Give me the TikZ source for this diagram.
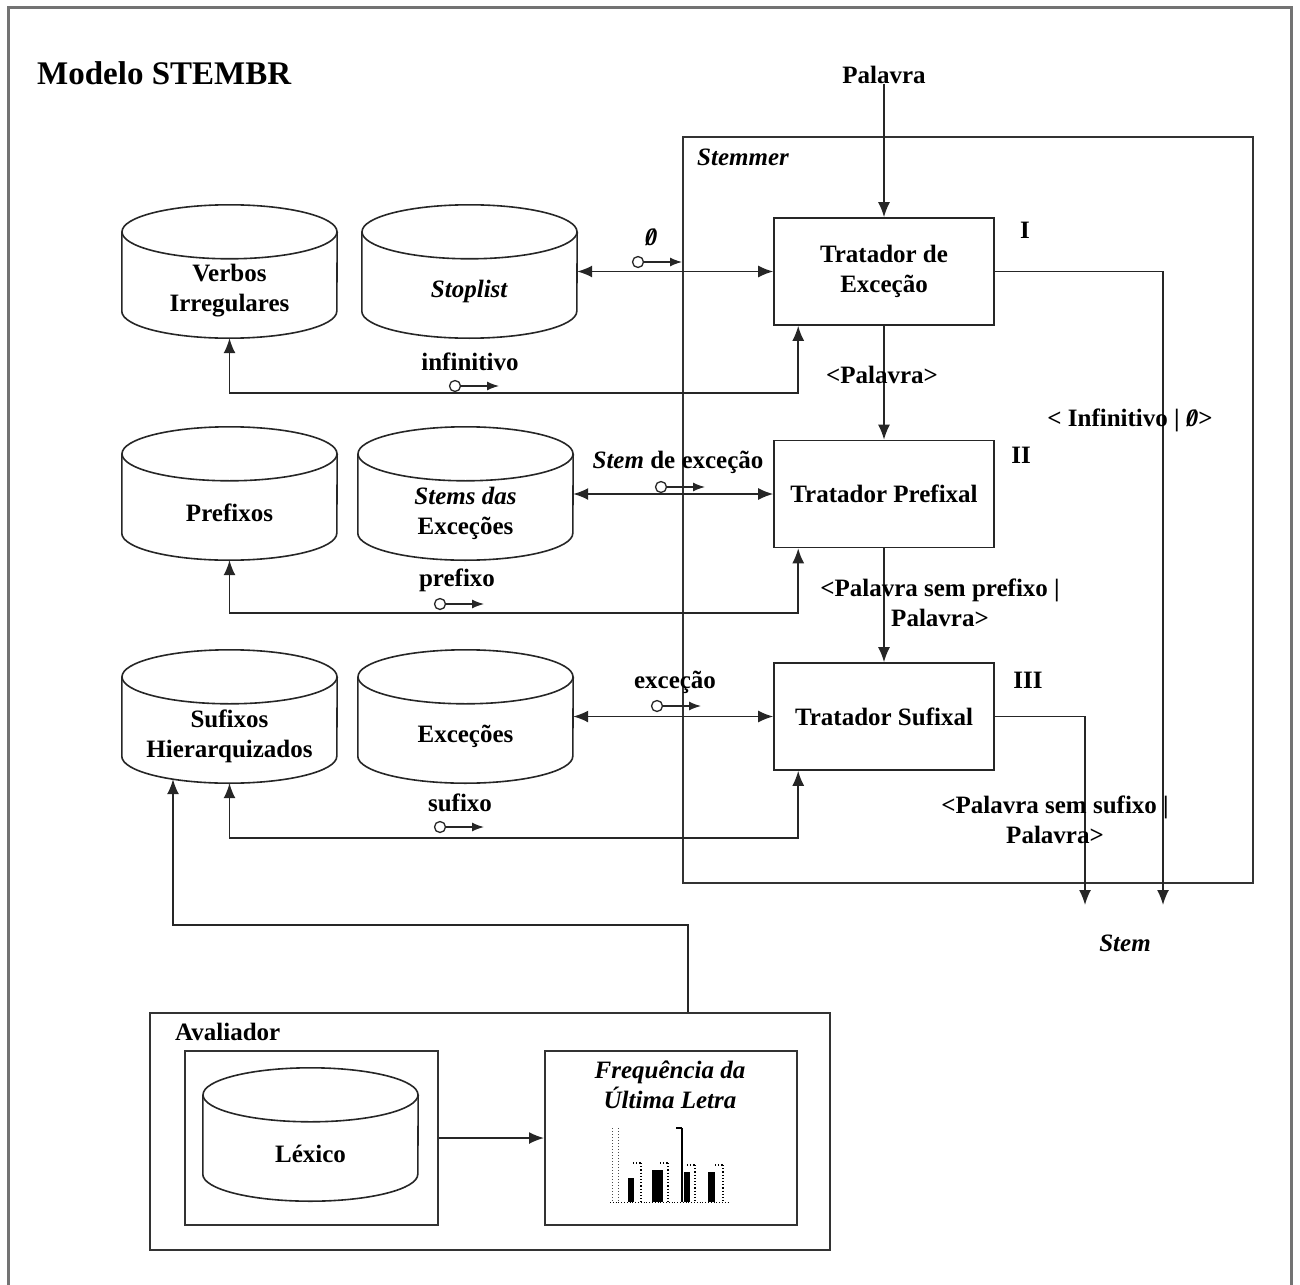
\documentclass[tikz,border=0pt]{standalone}
\usepackage{fontspec}
\setmainfont{Liberation Serif}
\usetikzlibrary{positioning,arrows.meta}

\newcommand{\vazio}{\ooalign{\textit{0}\cr\hidewidth\textit{/}\hidewidth}}
\newcommand{\banco}[4]{%
  \node[banco] (#1) at (#2,#3) {};
  \node[texto] (#1-rot) at ([yshift=-6pt]#1.center) {#4};
  \draw[linha] (#1.north) ellipse [x radius=107.5pt, y radius=27pt];
  \draw[linha] (#1.north west) -- ([yshift=27pt]#1.south west)
    arc [start angle=180, end angle=360, x radius=107.5pt, y radius=27pt] -- (#1.north east);
}

\begin{document}
\begin{tikzpicture}[x=1pt, y=-1pt,
    linha/.style = { draw=black!85, line width=1.6pt },
    seta/.style = { linha, -{Latex[length=15pt, width=12pt]} },
    setas/.style = { linha, {Latex[length=15pt, width=12pt]}-{Latex[length=15pt, width=12pt]} },
    texto/.style = { font=\fontsize{25}{30}\selectfont\bfseries, align=center, inner sep=0 },
    italico/.style = { texto, font=\fontsize{25}{30}\selectfont\bfseries\itshape },
    caixa/.style = { texto, linha, minimum width=220pt, minimum height=107pt },
    banco/.style = { minimum width=215pt, minimum height=106pt, inner sep=0 },
    grupo/.style = { draw=black!80, line width=2pt },
    chave/.pic = { \draw[linha, line width=1.3pt, fill=white] (0,0) circle (5.5pt);
                   \draw[linha, line width=1.3pt, -{Latex[length=12pt, width=9pt]}] (5.5,0) -- (44,0); }]
  \useasboundingbox (0,0) rectangle (1300,1284);
  \draw[draw=black!55, line width=3pt] (8,8) rectangle (1291,1300);

  \node[texto, font=\fontsize{33}{38}\selectfont\bfseries, anchor=west] (titulo) at (37,73) {Modelo STEMBR};
  \node[texto] (palavra) at (884,75) {Palavra};

  % stemmer
  \node[grupo, minimum width=570pt, minimum height=746pt] (stemmer) at (968,510) {};
  \node[italico, anchor=west] (stemrot) at (697,157) {Stemmer};
  \node[caixa] (excecao) at (884,271.5) {Tratador de\\Exceção};
  \node[caixa] (prefixal) at (884,494) {Tratador Prefixal};
  \node[caixa] (sufixal) at (884,716.5) {Tratador Sufixal};
  \node[texto] (n1) at (1025,230) {I};
  \node[texto] (n2) at (1021,455) {II};
  \node[texto] (n3) at (1028,680) {III};

  % bases
  \banco{verbos}{229.5}{285}{Verbos\\Irregulares}
  \banco{stoplist}{469.5}{285}{\textit{Stoplist}}
  \banco{prefixos}{229.5}{507}{Prefixos}
  \banco{stems}{465.5}{507}{\textit{Stems das}\\Exceções}
  \banco{sufixos}{229.5}{730}{Sufixos\\Hierarquizados}
  \banco{excecoes}{465.5}{730}{Exceções}

  \draw[seta] (palavra) -- (excecao);
  \draw[seta] (excecao) -- (prefixal);
  \draw[seta] (prefixal) -- (sufixal);
  \node[texto] (palavra2) at (882,375) {<Palavra>};
  \node[texto] (sempref) at (940,603) {<Palavra sem prefixo |\\Palavra>};

  \draw[setas] (stoplist.east |- excecao.west) -- (excecao.west);
  \draw[setas] (stems.east |- prefixal.west) -- (prefixal.west);
  \draw[setas] (excecoes.east |- sufixal.west) -- (sufixal.west);
  \draw[setas] (verbos.south) -- ++(0,55) -| ([xshift=25pt]excecao.south west);
  \draw[setas] (prefixos.south) -- ++(0,53) -| ([xshift=25pt]prefixal.south west);
  \draw[setas] (sufixos.south) -- ++(0,55) -| ([xshift=25pt]sufixal.south west);

  \node[texto] (vaz1) at (651,237) {\vazio};
  \node[texto] (infin) at (470,362) {infinitivo};
  \node[texto] (stemexc) at (678,462) {\textit{Stem} de exceção};
  \node[texto] (pref) at (457,580) {prefixo};
  \node[texto] (exc) at (675,682) {exceção};
  \node[texto] (suf) at (460,803) {sufixo};
  \pic at (638,262) {chave};
  \pic at (455,386) {chave};
  \pic at (661,487) {chave};
  \pic at (440,604) {chave};
  \pic at (657,706) {chave};
  \pic at (440,827) {chave};

  % saidas
  \coordinate (stemA) at (1163,905);
  \coordinate (stemB) at (1085,905);
  \draw[seta] (excecao.east) -| (stemA);
  \draw[seta] (sufixal.east) -| (stemB);
  \node[texto] (infrot) at (1130,420) {< Infinitivo | \vazio>};
  \node[texto] (semsuf) at (1055,820) {<Palavra sem sufixo |\\Palavra>};
  \node[italico] (stem) at (1125,943) {Stem};

  % avaliador
  \node[grupo, minimum width=680pt, minimum height=237pt] (avaliador) at (490,1131.5) {};
  \node[texto, anchor=west] (avalrot) at (175,1032) {Avaliador};
  \node[grupo, minimum width=253pt, minimum height=174pt] (lexbox) at (311.5,1138) {};
  \node[grupo, minimum width=252pt, minimum height=174pt] (freqbox) at (671,1138) {};
  \banco{lexico}{310.5}{1148}{Léxico}
  \node[italico] (freqrot) at (670,1085) {Frequência da\\Última Letra};
  \draw[seta] (lexbox) -- (freqbox);
  \coordinate (retorno) at (688,925);
  \draw[seta] (retorno |- avaliador.north) -- (retorno) -| ([xshift=-56.5pt, yshift=4pt]sufixos.south);

  % grafico
  \draw[black!70, line width=1pt, dotted] (612,1128) -- (612,1202) (618,1128) -- (618,1202);
  \foreach \xa/\xb/\yt in {628/634/1178, 652/663/1170, 684/690/1172, 708/715/1172}
    \fill (\xa,\yt) rectangle (\xb,1202);
  \foreach \xa/\yt in {641/1163, 668/1163, 695/1165, 723/1165}
    \draw[line width=1.2pt, dotted] (\xa,\yt) -- (\xa,1202) (\xa-8,\yt) -- (\xa,\yt);
  \draw[line width=1.2pt] (682,1128) -- (682,1202) (676,1128) -- (682,1128);
  \draw[line width=0.8pt, dotted] (610,1202) -- (728,1202);
\end{tikzpicture}
\end{document}
